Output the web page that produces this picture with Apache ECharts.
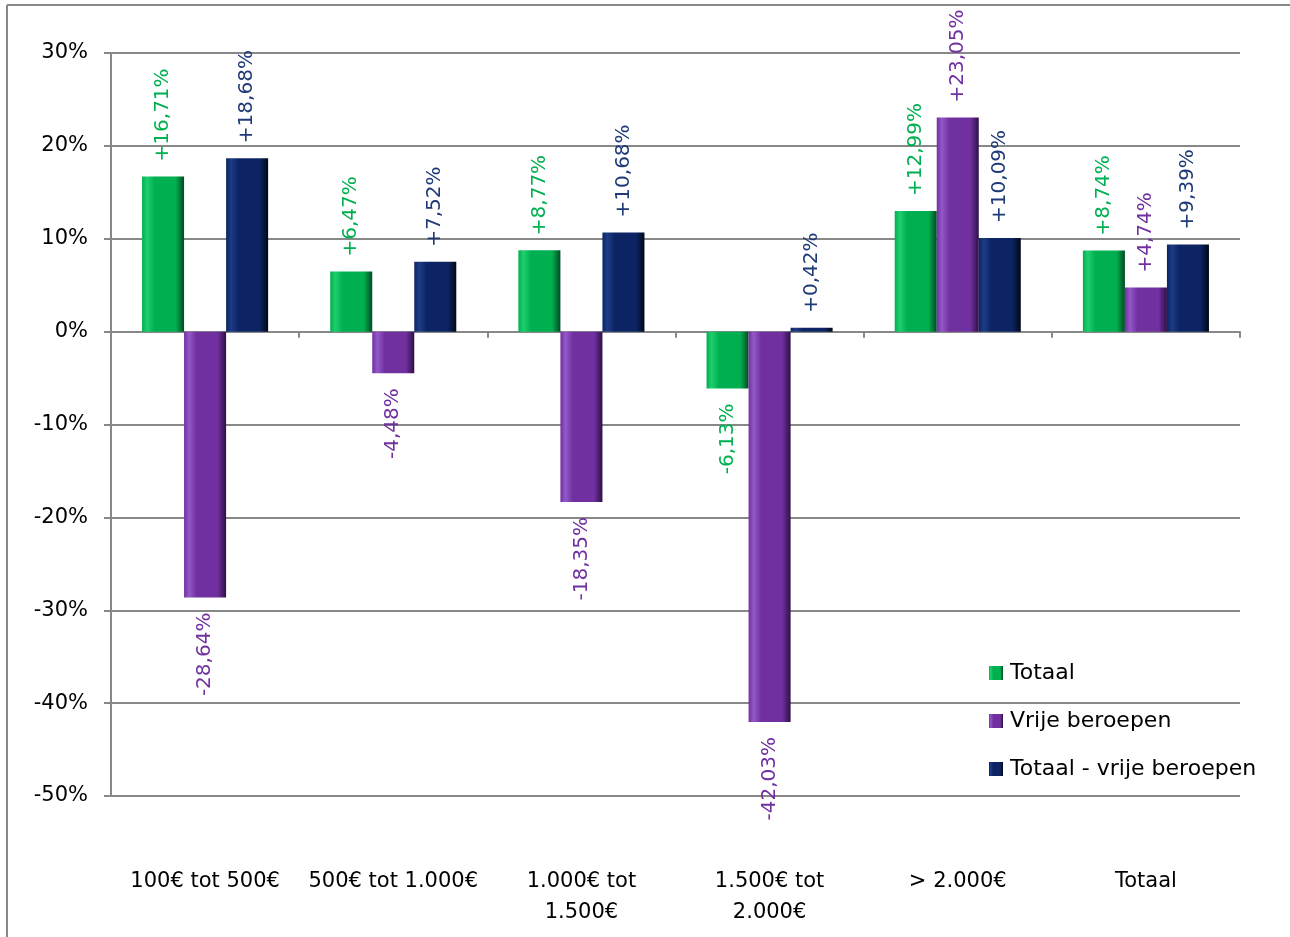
<!DOCTYPE html>
<html>
<head>
<meta charset="utf-8">
<script src="https://cdn.jsdelivr.net/npm/echarts@6/dist/echarts.min.js"></script>
<style>html,body{margin:0;padding:0;background:#fff}#c{width:1290px;height:937px}</style>
</head>
<body>
<div id="c"></div>
<script>
var categories = ['100€ tot 500€', '500€ tot 1.000€', '1.000€ tot 1.500€', '1.500€ tot 2.000€', '> 2.000€', 'Totaal'];
var seriesNames = ['Totaal', 'Vrije beroepen', 'Totaal - vrije beroepen'];
var totaal = [16.71, 6.47, 8.77, -6.13, 12.99, 8.74];
var vrijeBeroepen = [-28.64, -4.48, -18.35, -42.03, 23.05, 4.74];
var totaalMinVrije = [18.68, 7.52, 10.68, 0.42, 10.09, 9.39];
var yTicks = [-50, -40, -30, -20, -10, 0, 10, 20, 30];

var FONT = 'DejaVu Sans';
var labelColors = ['#00B050', '#7030A0', '#1F3A78'];
function grad(light, mid, dark) {
  return new echarts.graphic.LinearGradient(0, 0, 1, 0, [
    {offset: 0, color: mid},
    {offset: 0.12, color: light},
    {offset: 0.3, color: mid},
    {offset: 0.8, color: mid},
    {offset: 1, color: dark}
  ]);
}
var fills = [
  grad('#1fcf6e', '#00B050', '#004a22'),
  grad('#9458c8', '#7030A0', '#2e1044'),
  grad('#1d3c86', '#0c2463', '#000814')
];
function fmt(v) {
  var s = Math.abs(v).toFixed(2).replace('.', ',');
  return (v >= 0 ? '+' : '-') + s + '%';
}
function mk(vals, idx) {
  return {
    name: seriesNames[idx],
    type: 'bar',
    xAxisIndex: 0,
    barGap: '0%',
    barCategoryGap: '33%',
    itemStyle: {color: fills[idx]},
    data: vals.map(function (v) {
      return {
        value: v,
        label: {
          show: true,
          position: v >= 0 ? 'top' : 'bottom',
          rotate: 90,
          align: v >= 0 ? 'left' : 'right',
          verticalAlign: 'middle',
          distance: 15,
          color: labelColors[idx],
          fontFamily: FONT,
          fontSize: 20,
          formatter: function (p) { return fmt(p.value); }
        }
      };
    })
  };
}
var chart = echarts.init(document.getElementById('c'), null, {renderer: 'canvas'});
chart.setOption({
  animation: false,
  backgroundColor: '#fff',
  graphic: [{
    type: 'line', shape: {x1: 7, y1: 5, x2: 1295, y2: 5},
    style: {stroke: '#888', lineWidth: 2}, silent: true
  }, {
    type: 'line', shape: {x1: 7, y1: 5, x2: 7, y2: 945},
    style: {stroke: '#888', lineWidth: 2}, silent: true
  }],
  grid: {left: 111, right: 50, top: 53, bottom: 141, containLabel: false},
  legend: {
    orient: 'vertical', left: 984, top: 657,
    itemWidth: 14, itemHeight: 14, itemGap: 26, icon: 'rect',
    textStyle: {fontFamily: FONT, fontSize: 22, color: '#000', padding: [0, 0, 0, 2]},
    data: seriesNames
  },
  xAxis: [{
    type: 'category', data: categories,
    axisLine: {onZero: true, lineStyle: {color: '#888', width: 2}},
    axisTick: {show: true, length: 6, lineStyle: {color: '#888', width: 2}},
    axisLabel: {show: false}
  }, {
    type: 'category', data: categories, position: 'bottom',
    axisLine: {show: false, onZero: false}, axisTick: {show: false},
    axisLabel: {
      show: true, margin: 70, fontFamily: FONT, fontSize: 21, color: '#000',
      lineHeight: 31, interval: 0,
      formatter: function (v) { return v.length > 15 ? v.replace(' tot ', ' tot\n') : v; }
    }
  }],
  yAxis: {
    type: 'value', min: yTicks[0], max: yTicks[yTicks.length - 1], interval: 10,
    axisLine: {show: true, lineStyle: {color: '#888', width: 2}},
    axisTick: {show: true, length: 7, lineStyle: {color: '#888', width: 2}},
    splitLine: {lineStyle: {color: '#888', width: 2}},
    axisLabel: {fontFamily: FONT, fontSize: 21, color: '#000', margin: 23,
      formatter: function (v) { return v + '%'; }}
  },
  series: [mk(totaal, 0), mk(vrijeBeroepen, 1), mk(totaalMinVrije, 2)]
});
</script>
</body>
</html>
